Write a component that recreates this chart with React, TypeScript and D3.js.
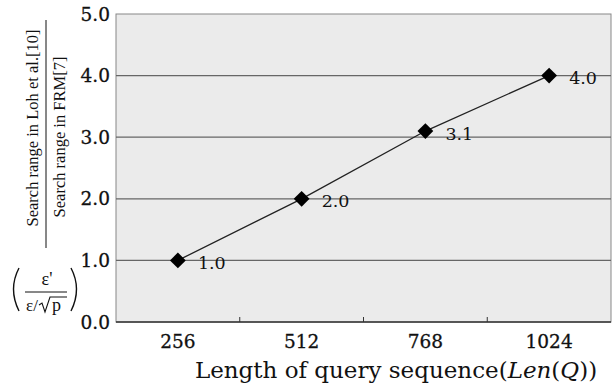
import React from "react";
import * as d3 from "d3";

const categories = ["256", "512", "768", "1024"];
const values = [1.0, 2.0, 3.1, 4.0];
const valueLabels = ["1.0", "2.0", "3.1", "4.0"];
const yTicks = [0, 1, 2, 3, 4, 5];

const W = 616, H = 387;
const M = { left: 116, right: 611, top: 14, bottom: 322 };
const FONT = "'DejaVu Serif', 'Liberation Serif', serif";
const FONT2 = "'Liberation Serif', serif";

export default function App() {
  const x = d3.scaleBand().domain(categories).range([M.left, M.right]);
  const y = d3.scaleLinear().domain([0, 5]).range([M.bottom, M.top]);
  const line = d3.line<number>().x((_, i) => x(categories[i])! + x.bandwidth() / 2).y((d) => y(d));
  const boundaries = categories.slice(1).map((c) => x(c)!);
  const diamond = d3.symbol(d3.symbolSquare, 125)()!;
  return (
    <div style={{ position: "absolute", left: 0, top: 0 }}>
      <svg width={W} height={H} style={{ display: "block", background: "#fff" }}>
        <rect x={M.left} y={M.top} width={M.right - M.left} height={M.bottom - M.top} fill="#ebebeb" stroke="#888" strokeWidth={1} />
        {yTicks.map((t) => (
          <g key={t}>
            {t > 0 && t < 5 && <line x1={M.left} x2={M.right} y1={y(t)} y2={y(t)} stroke="#666" strokeWidth={1.2} />}
            <text x={110} y={y(t) + 6.5} textAnchor="end" fontFamily={FONT} fontSize={18.5} fill="#111" stroke="#111" strokeWidth={0.3}>{t.toFixed(1)}</text>
          </g>
        ))}
        <line x1={M.left} x2={M.right} y1={M.bottom} y2={M.bottom} stroke="#333" strokeWidth={1.5} />
        {boundaries.map((b, i) => (
          <line key={i} x1={b} x2={b} y1={M.bottom} y2={M.bottom - 5} stroke="#333" strokeWidth={1} />
        ))}
        {categories.map((c) => (
          <text key={c} x={x(c)! + x.bandwidth() / 2} y={348} textAnchor="middle" fontFamily={FONT} fontSize={18.5} fill="#111" stroke="#111" strokeWidth={0.3}>{c}</text>
        ))}
        <path d={line(values)!} fill="none" stroke="#222" strokeWidth={1.3} />
        {values.map((v, i) => {
          const cx = x(categories[i])! + x.bandwidth() / 2;
          const cy = y(v);
          return (
            <g key={i}>
              <path d={diamond} transform={`translate(${cx},${cy}) rotate(45)`} fill="#000" />
              <text x={cx + 20} y={cy + 8.5} fontFamily={FONT} fontSize={17.5} fill="#111">{valueLabels[i]}</text>
            </g>
          );
        })}
        <text x={396} y={378} textAnchor="middle" fontFamily={FONT} fontSize={23} fill="#111">
          Length of query sequence(<tspan fontStyle="italic">Len</tspan>(<tspan fontStyle="italic">Q</tspan>))
        </text>
        <g fontFamily={FONT2} fill="#111">
          <text transform="translate(38,128) rotate(-90)" textAnchor="middle" fontSize={16.5}>Search range in Loh et al.[10]</text>
          <line x1={46} x2={46} y1={20} y2={248} stroke="#111" strokeWidth={1} />
          <text transform="translate(65,137) rotate(-90)" textAnchor="middle" fontSize={16.5}>Search range in FRM[7]</text>
        </g>
        <g fontFamily={FONT2} fill="#111">
          <text x={47} y={285} textAnchor="middle" fontSize={18}>ε'</text>
          <line x1={25} x2={67} y1={292} y2={292} stroke="#111" strokeWidth={1} />
          <text x={26} y={311} fontSize={17}>ε/</text>
          <path d="M39,305 L42,303 L45,312 L50,297 L67,297" fill="none" stroke="#111" strokeWidth={1.1} />
          <text x={52} y={311} fontSize={18}>p</text>
          <path d="M19,268 Q8,289 19,311" fill="none" stroke="#111" strokeWidth={1.4} />
          <path d="M71,268 Q82,289 71,311" fill="none" stroke="#111" strokeWidth={1.4} />
        </g>
      </svg>
    </div>
  );
}
